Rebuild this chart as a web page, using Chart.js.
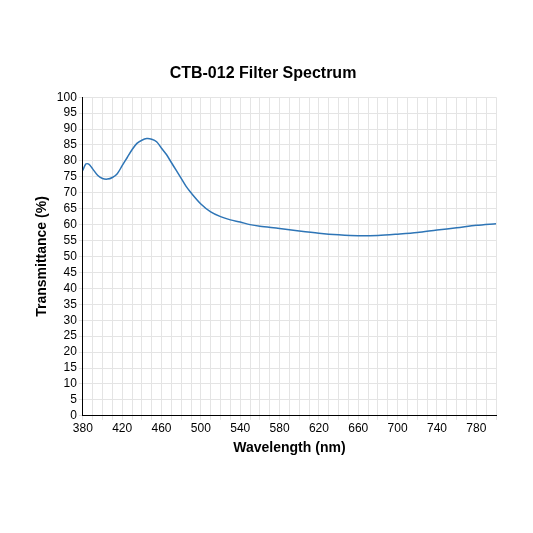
<!DOCTYPE html><html><head><script src="https://cdn.jsdelivr.net/npm/chart.js@4"></script>
<style>body{margin:0;background:#fff}#w{width:533px;height:533px}</style></head><body><div id="w"><canvas id="c"></canvas></div>
<script>
const wavelengths=[380,383,386,390,395,400,405,410,415,420,425,430,435,440,445,450,455,460,465,470,475,480,485,490,500,510,520,530,540,550,560,580,600,620,640,660,680,700,720,740,760,780,800];
const transmittance=[77,79,79,77.5,75.5,74.5,74.3,74.8,76,78.5,81,83.5,85.5,86.5,87,86.8,86,84,82,79.5,77,74.5,72,70,66.5,64,62.5,61.5,60.8,60,59.5,58.8,58,57.3,56.8,56.5,56.6,57,57.5,58.3,59,59.8,60.3];
const grid={color:'#e4e4e4',lineWidth:1,tickLength:4};
new Chart(document.getElementById('c'),{type:'line',
data:{datasets:[{data:wavelengths.map((x,i)=>({x,y:transmittance[i]})),borderColor:'#2e75b6',borderWidth:1.5,pointRadius:0,tension:0.3}]},
options:{animation:false,responsive:true,maintainAspectRatio:false,
layout:{padding:{left:30,right:37,top:64,bottom:72}},
plugins:{legend:{display:false},title:{display:true,text:'CTB-012 Filter Spectrum',font:{family:'Liberation Sans',size:16,weight:'bold'},color:'#000',padding:{bottom:14}}},
scales:{x:{type:'linear',min:380,max:800,ticks:{stepSize:10,autoSkip:false,maxRotation:0,padding:2,color:'#000',font:{family:'Liberation Sans',size:12},callback:v=>(v-380)%40===0?v:''},grid:grid,border:{color:'#000'},
title:{display:true,text:'Wavelength (nm)',font:{family:'Liberation Sans',size:14,weight:'bold'},color:'#000',padding:{top:2}}},
y:{min:0,max:100,ticks:{stepSize:5,autoSkip:false,padding:2,color:'#000',font:{family:'Liberation Sans',size:12}},grid:grid,border:{color:'#000'},
title:{display:true,text:'Transmittance (%)',font:{family:'Liberation Sans',size:14,weight:'bold'},color:'#000'}}}}});
</script></body></html>
